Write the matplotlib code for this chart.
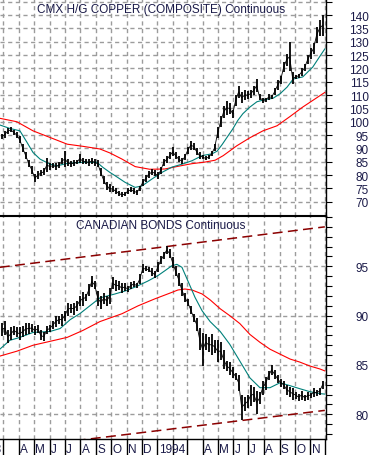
import pandas as pd
import numpy as np
import matplotlib
matplotlib.use("Agg")
import matplotlib.pyplot as plt
import matplotlib.transforms as mtransforms

plt.rcParams['font.family'] = ['Liberation Sans', 'DejaVu Sans']

base = pd.Timestamp("1993-01-01")
bar_dates = pd.date_range("1993-02-26", periods=108, freq="143h")

# copper daily range (sampled), cents/lb
copper_low = [93.5, 94, 95.5, 96, 95, 94, 92, 88.5, 86, 83,
              80.5, 77.3, 78.5, 79.5, 80, 81, 82, 82.5, 82, 82.5,
              84, 83, 83.5, 83, 83.5, 84, 84.5, 84, 84, 83.5,
              84, 83.5, 83, 79.5, 76.5, 74.5, 73.5, 73.5, 73, 72.3,
              71.8, 72, 73, 73.5, 73, 72.5, 74, 76, 77.5, 79,
              80, 79.5, 78.5, 80.5, 83.5, 84.5, 86, 87, 86, 85,
              84, 85.5, 88, 89.5, 89.5, 87.5, 86, 86, 85.5, 86,
              87, 89, 94, 98, 101.5, 102.5, 103, 101.5, 106, 109,
              107, 108, 108.5, 109, 110, 111, 108, 107, 107.5, 108,
              108.5, 110, 112, 114, 118.5, 121, 119, 114, 116, 116.5,
              117.3, 119, 121.5, 123.5, 125.5, 129.5, 132, 132.3]
copper_high = [95.5, 96.5, 97.5, 98, 97, 96, 94.5, 91.5, 88.5, 85.5,
               83.5, 80.5, 81.5, 82, 82.5, 86.5, 84.5, 84.5, 84.5, 84.8,
               86.5, 89, 86, 85.4, 85.5, 85.5, 87.9, 86.5, 86, 86,
               86.6, 86, 85.5, 82.5, 79.5, 77.5, 76.5, 76, 75, 74,
               73.5, 73.5, 75, 75.4, 75, 74.5, 76, 78.5, 80, 81.5,
               82.3, 82, 81, 83, 86, 87.3, 88.5, 90.4, 88.5, 87,
               86.5, 88, 90.5, 92.9, 92, 90, 88.5, 87.5, 87, 87.5,
               89, 91.6, 98, 102, 106, 107.9, 107, 104.5, 110, 113.5,
               111, 112, 111.5, 112, 113.5, 116, 110.4, 109, 109, 110.4,
               110, 112.5, 115.5, 117.3, 122.3, 125.5, 129.8, 118.5, 117.5, 118,
               120, 121.5, 125, 127.5, 129.5, 135.5, 138, 140]

# canadian bonds daily range (sampled)
bonds_low = [87.9, 88, 87.2, 87.5, 88, 87.8, 87.5, 87.8, 88, 88.1,
             88.3, 88, 88.2, 87.5, 87.4, 88.1, 88.3, 88.6, 88.8, 89.2,
             89, 89.5, 90, 90.3, 90.1, 90.5, 91, 91, 91.5, 92,
             92.9, 92.7, 91, 90.7, 91.2, 91, 91.2, 92.7, 92.5, 92.6,
             92.3, 92.5, 92.4, 92.7, 92.9, 92.8, 93.2, 94.3, 94.5, 94.4,
             94, 93.8, 94.4, 95.2, 95.7, 96.2, 95.8, 94.8, 94, 93,
             92, 91.4, 91, 90.2, 89.4, 88.4, 86.5, 84.9, 86.5, 86.3,
             86, 86.2, 85.3, 85.5, 84.6, 84.4, 84, 83.7, 83.5, 82.4,
             79.4, 80.3, 80.6, 80.8, 81.3, 80, 81, 82, 82.5, 83.5,
             84, 83.6, 83.2, 82.8, 82.6, 82, 81.8, 81.5, 81.6, 81.4,
             81.5, 81.4, 81.5, 81.7, 81.8, 81.9, 82, 82.6]
bonds_high = [89.3, 89.5, 88.5, 88.8, 89, 88.8, 88.8, 89, 89.3, 89.3,
              89.2, 89, 89.1, 88.5, 88.3, 89, 89.1, 89.5, 90, 90,
              90.2, 90.5, 91.3, 91.2, 91.3, 91.5, 92, 92.4, 92.2, 93.2,
              94, 93.5, 92.5, 92, 92.3, 92, 92.8, 93.9, 93.6, 93.5,
              93.3, 93.3, 93, 93.4, 93.5, 93.3, 94.2, 95.2, 95, 94.9,
              94.8, 94.5, 95.4, 96, 96.5, 97.1, 96.8, 95.9, 95, 94.3,
              93.3, 92.3, 91.7, 91, 90.2, 89.8, 88.7, 88.2, 88.1, 87.8,
              88.1, 87.5, 87.5, 87.3, 86.5, 85.4, 85.3, 84.8, 84.2, 84,
              82, 81.8, 82, 83, 82.8, 82.4, 82.3, 83.4, 83.8, 84.4,
              85, 84.5, 84, 83.6, 83.4, 83, 82.8, 82.7, 82.3, 82.1,
              82.4, 82, 82.3, 82.2, 82.7, 82.5, 82.7, 83.4]

# moving averages, days since 1993-01-01
cu_fast_days = [52, 72, 92, 106, 118, 132, 152, 166, 186, 217, 245, 257, 271, 281,
                301, 321, 335, 354, 374, 394, 414, 434, 454, 474, 484, 494, 503,
                515, 525, 535, 549, 563, 579, 595, 609, 623, 635, 654, 674, 688, 698]
cu_fast = [98.8, 97.5, 96.6, 92.3, 88.5, 86, 84.1, 83.5, 84.4, 84.8, 84.8, 82.9, 81, 79.8,
           77.3, 75.4, 76, 78.5, 81, 83, 84.1, 85.4, 87.3, 88, 89, 91.5, 94,
           97.3, 100.5, 103, 105.5, 107.5, 108.3, 108.8, 110.5, 113, 116, 116.8, 120.5, 124.5, 127.3]
cu_slow_days = [52, 86, 118, 152, 186, 217, 251, 271, 295, 321, 350, 380, 406, 434,
                460, 480, 496, 523, 549, 575, 603, 629, 654, 682, 698]
cu_slow = [101.3, 100, 96.6, 94.1, 91.6, 90.8, 89.8, 88.3, 86, 83.2, 82.2, 82.3, 83.3, 84.3,
           84.9, 85.6, 87.3, 91, 94, 96.6, 98.5, 102, 105.5, 109, 111]

bd_fast_days = [52, 72, 92, 118, 152, 172, 192, 211, 231, 251, 281, 301, 321, 346,
                366, 380, 394, 404, 414, 426, 440, 454, 470, 490, 509, 529, 549,
                569, 589, 609, 629, 648, 668, 688, 698]
bd_fast = [86.6, 87.5, 87.8, 88.3, 88.4, 88.7, 89.6, 90.2, 91, 91.8, 92.2, 92.5, 92.9, 93.5,
           94.05, 94.55, 95.06, 95.2, 94.9, 93.5, 91.85, 90.5, 89.4, 88.4, 87.1, 85.4, 83.7,
           82.7, 82.7, 83.2, 82.9, 82.6, 82.3, 82.1, 82.05]
bd_slow_days = [52, 86, 118, 152, 186, 217, 251, 295, 327, 360, 394, 406, 420, 434,
                454, 470, 490, 509, 529, 549, 569, 589, 609, 629, 648, 668, 688, 698]
bd_slow = [85.9, 86.4, 87, 87.4, 87.8, 88.5, 89.4, 90.2, 91, 91.7, 92.36, 92.6, 92.7, 92.6,
           92.2, 91.6, 90.7, 90, 89.2, 88.1, 87.3, 86.6, 86.1, 85.6, 85.3, 84.9, 84.6, 84.4]

# channel lines on bonds
chan_days = [52, 698]
chan_upper = [94.9, 99.0]
chan_lower = [76.4, 80.4]

month_letters = ["J", "F", "M", "A", "M", "J", "J", "A", "S", "O", "N", "D"]
cu_ticks = list(range(70, 150, 5))
bd_ticks = [80, 85, 90, 95]


def to_dates(days):
    return base + pd.to_timedelta(days, unit="D")


text_col = "#1a1a48"
grid_col = "#9c9c9c"

fig = plt.figure(figsize=(3.70, 4.56), dpi=100)
ax1 = fig.add_axes([0, 1 - 216.7 / 456, 325.7 / 370, 216.7 / 456])
ax2 = fig.add_axes([0, 16 / 456, 325.7 / 370, (440 - 216.7) / 456])

months = pd.date_range("1993-01-01", "1994-12-01", freq="MS")
xlim = (base + pd.Timedelta(days=52.4), base + pd.Timedelta(days=699.7))

# copper
ax1.plot(to_dates(cu_slow_days), cu_slow, color="#ff0000", lw=0.8)
ax1.plot(to_dates(cu_fast_days), cu_fast, color="#00807a", lw=0.8)
ax1.vlines(bar_dates, copper_low, copper_high, color="black", lw=1.3)
ax1.plot(bar_dates, (np.array(copper_low) + np.array(copper_high)) / 2, color="black", lw=0.6)

# bonds
ax2.plot(to_dates(chan_days), chan_upper, color="#8b0000", lw=1.1, dashes=(6.5, 3.5))
ax2.plot(to_dates(chan_days), chan_lower, color="#8b0000", lw=1.1, dashes=(6.5, 3.5))
ax2.plot(to_dates(bd_slow_days), bd_slow, color="#ff0000", lw=0.8)
ax2.plot(to_dates(bd_fast_days), bd_fast, color="#00807a", lw=0.8)
ax2.vlines(bar_dates, bonds_low, bonds_high, color="black", lw=1.3)
ax2.plot(bar_dates, (np.array(bonds_low) + np.array(bonds_high)) / 2, color="black", lw=0.6)

ax1.set_ylim(64.8, 146.0)
ax1.set_yticks(cu_ticks)
ax1.set_yticklabels([str(v) if v <= 140 else "" for v in cu_ticks])
ax2.set_ylim(77.5, 100.13)
ax2.set_yticks(bd_ticks)
ax2.set_yticks(np.arange(78, 101, 1), minor=True)

for ax in (ax1, ax2):
    ax.set_xticks(months)
    ax.set_xticklabels([])
    ax.set_xlim(xlim)
    ax.yaxis.tick_right()
    ax.spines["left"].set_visible(False)
    ax.spines["top"].set_visible(False)
    for s in ("right", "bottom"):
        ax.spines[s].set_linewidth(1.0)
    ax.tick_params(axis="y", which="both", direction="out", length=4, width=0.8,
                   pad=27, labelsize=8.5, labelcolor=text_col)
    for lab in ax.get_yticklabels():
        lab.set_ha("right")
    ax.xaxis.grid(True, which="major", color=grid_col, linewidth=1.0, linestyle="--", dashes=(3, 2.5))
    ax.yaxis.grid(True, which="major", color=grid_col, linewidth=1.0, linestyle="--", dashes=(3, 2.5))
    ax.set_axisbelow(True)

ax1.tick_params(axis="x", length=0)
ax1.spines["bottom"].set_linewidth(1.5)
ax2.spines["top"].set_visible(True)
ax2.spines["top"].set_linewidth(0.8)
ax2.tick_params(axis="x", direction="out", length=12, width=1.0)

ax1.text(0.494, 0.956, "CMX H/G COPPER (COMPOSITE) Continuous", transform=ax1.transAxes,
         ha="center", va="center", fontsize=8.5, color=text_col)
ax2.text(0.494, 0.959, "CANADIAN BONDS Continuous", transform=ax2.transAxes,
         ha="center", va="center", fontsize=8.5, color=text_col)

# month labels along the bottom (only those inside the chart window)
lab_trans = mtransforms.offset_copy(ax2.get_xaxis_transform(), fig=fig, x=1.0, y=0, units="points")
for m in months:
    if m.month == 1:
        lab = str(m.year)
    elif m.month in (2, 3):
        lab = ""
    else:
        lab = month_letters[m.month - 1]
    if m + pd.Timedelta(days=10) > xlim[1]:
        lab = ""
    ax2.text(m, -0.046, lab, transform=lab_trans, ha="left", va="center",
             fontsize=8.5, color=text_col, clip_on=False)

fig.savefig("out.png", dpi=100)
